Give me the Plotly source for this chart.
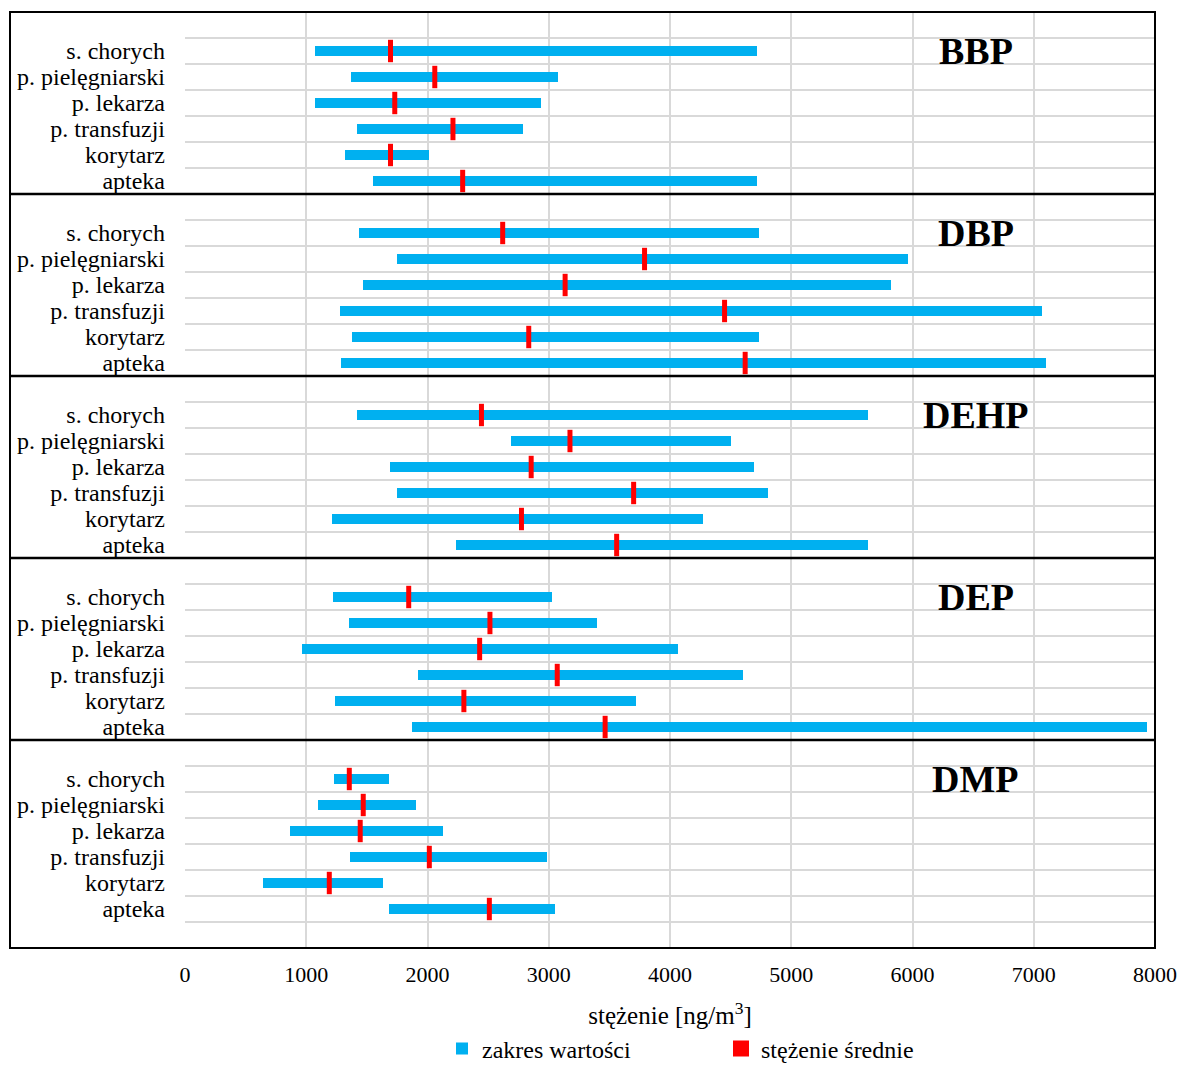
import plotly.graph_objects as go

# Compounds (one panel each) and sampling locations (rows within a panel)
compounds = ["BBP", "DBP", "DEHP", "DEP", "DMP"]
locations = ["s. chorych", "p. pielęgniarski", "p. lekarza",
             "p. transfuzji", "korytarz", "apteka"]

# Concentration ranges and means [ng/m3], in the order of `locations`
bbp_min = [1070, 1370, 1070, 1420, 1320, 1550]
bbp_max = [4720, 3080, 2940, 2790, 2010, 4720]
bbp_mean = [1695, 2060, 1730, 2210, 1695, 2290]

dbp_min = [1435, 1750, 1470, 1275, 1375, 1290]
dbp_max = [4730, 5960, 5820, 7070, 4730, 7100]
dbp_mean = [2620, 3790, 3135, 4450, 2835, 4620]

dehp_min = [1420, 2690, 1690, 1750, 1215, 2235]
dehp_max = [5630, 4505, 4695, 4810, 4270, 5630]
dehp_mean = [2445, 3175, 2855, 3700, 2775, 3560]

dep_min = [1220, 1355, 965, 1920, 1235, 1875]
dep_max = [3025, 3395, 4065, 4605, 3720, 7935]
dep_mean = [1845, 2515, 2430, 3070, 2300, 3465]

dmp_min = [1230, 1095, 870, 1360, 640, 1685]
dmp_max = [1685, 1905, 2130, 2985, 1635, 3055]
dmp_mean = [1355, 1470, 1445, 2015, 1190, 2510]

tick_values = [0, 1000, 2000, 3000, 4000, 5000, 6000, 7000, 8000]

mins = [bbp_min, dbp_min, dehp_min, dep_min, dmp_min]
maxs = [bbp_max, dbp_max, dehp_max, dep_max, dmp_max]
means = [bbp_mean, dbp_mean, dehp_mean, dep_mean, dmp_mean]

FONT = "Liberation Serif"
BLUE = "#00B0F0"
RED = "#FF0000"
GRID = "#D9D9D9"

# Each panel has one blank slot above its six rows; one extra blank slot closes the chart
SLOTS_PER_GROUP = len(locations) + 1
N_SLOTS = SLOTS_PER_GROUP * len(compounds) + 1

ys, bases, lengths, avg, labels = [], [], [], [], []
for g in range(len(compounds)):
    for i, loc in enumerate(locations):
        y = g * SLOTS_PER_GROUP + 1 + i + 0.5
        ys.append(y)
        bases.append(mins[g][i])
        lengths.append(maxs[g][i] - mins[g][i])
        avg.append(means[g][i])
        labels.append(loc)

fig = go.Figure()

fig.add_trace(go.Bar(
    orientation="h", y=ys, x=lengths, base=bases, width=0.42,
    marker=dict(color=BLUE, line=dict(width=0)),
    name="zakres wartości", showlegend=True,
))

fig.add_trace(go.Scatter(
    x=avg, y=ys, mode="markers", showlegend=False,
    marker=dict(symbol="line-ns", size=16, color=RED,
                line=dict(color=RED, width=5)),
    name="stężenie średnie",
))

# legend entry for the mean marker
fig.add_trace(go.Scatter(
    x=[None], y=[None], mode="markers", name="stężenie średnie",
    marker=dict(symbol="square", size=16, color=RED),
))

# Plot area geometry (pixels)
W, H = 1180, 1065
ML, MR, MT, MB = 185, 25, 12, 117
plot_w = W - ML - MR
plot_h = H - MT - MB
frame_left = (10 - ML) / plot_w

shapes = []
for g in range(1, len(compounds)):
    yp = 1 - g * SLOTS_PER_GROUP / N_SLOTS
    shapes.append(dict(type="line", xref="paper", yref="paper",
                       x0=frame_left, x1=1, y0=yp, y1=yp,
                       line=dict(color="black", width=2.5), layer="above"))
shapes.append(dict(type="rect", xref="paper", yref="paper",
                   x0=frame_left, x1=1, y0=0, y1=1,
                   line=dict(color="black", width=2), layer="above"))

annotations = []
for g, name in enumerate(compounds):
    annotations.append(dict(
        x=6520, y=g * SLOTS_PER_GROUP + 1.5, xref="x", yref="y",
        text=f"<b>{name}</b>", showarrow=False,
        font=dict(family=FONT, size=38, color="black"),
    ))

fig.update_layout(
    width=W, height=H,
    margin=dict(l=ML, r=MR, t=MT, b=MB, autoexpand=False),
    paper_bgcolor="white", plot_bgcolor="white",
    font=dict(family=FONT, size=24, color="black"),
    bargap=0,
    shapes=shapes,
    annotations=annotations,
    legend=dict(orientation="h", x=(442 - ML) / plot_w, xanchor="left",
                y=-(1049 - (H - MB)) / plot_h, yanchor="middle",
                itemwidth=30, entrywidth=234, entrywidthmode="pixels",
                borderwidth=0,
                font=dict(family=FONT, size=24, color="black"),
                traceorder="normal"),
    hovermode=False,
)

fig.update_xaxes(
    range=[0, 8000], tickvals=tick_values,
    ticktext=[str(v) for v in tick_values],
    showgrid=True, gridcolor=GRID, gridwidth=2,
    zeroline=False, showline=False, ticks="", automargin=False,
    ticklabelstandoff=11,
    tickfont=dict(family=FONT, size=22, color="black"),
    title=dict(text="stężenie [ng/m<sup>3</sup>]", standoff=20,
               font=dict(family=FONT, size=25, color="black")),
)

fig.update_yaxes(
    range=[N_SLOTS, 0], tickvals=ys, ticktext=labels,
    showgrid=False, zeroline=False, showline=False, ticks="", automargin=False,
    ticklabelstandoff=19,
    tickfont=dict(family=FONT, size=24, color="black"),
    minor=dict(tickmode="array", tickvals=list(range(1, N_SLOTS)),
               showgrid=True, gridcolor=GRID, gridwidth=2, ticks=""),
)

fig.write_html("out.html")
